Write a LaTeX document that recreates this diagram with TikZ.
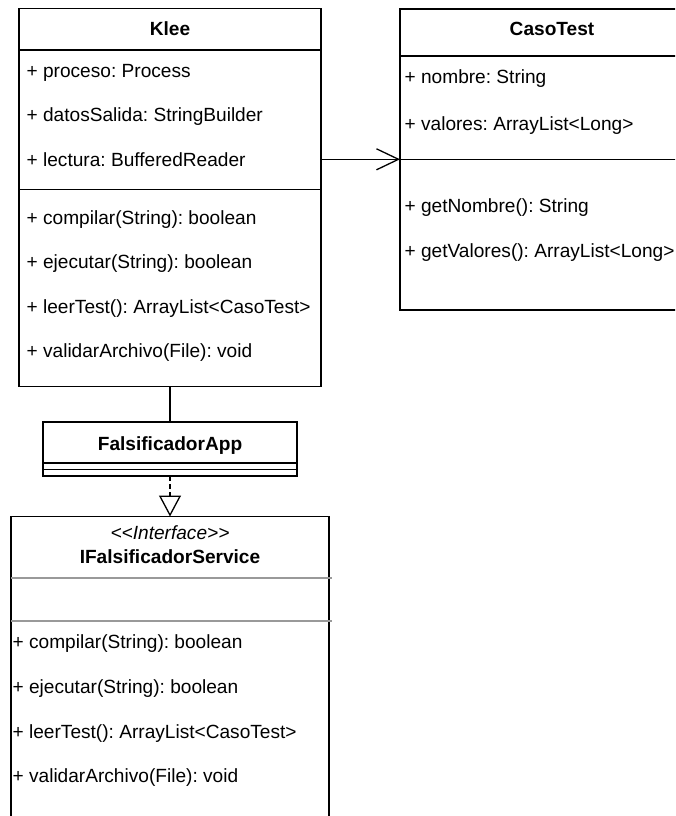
\documentclass[tikz,border=0pt]{standalone}
\usepackage{fontspec}
\setmainfont{Liberation Sans}
\usetikzlibrary{arrows.meta}
\frenchspacing

\begin{document}
\begin{tikzpicture}[x=1pt,y=-1pt,line width=1.3pt,
  classbox/.style={draw,rectangle,anchor=north west,inner sep=0pt,outer sep=0pt},
  member/.style={anchor=base west,inner sep=0pt,font=\fontsize{19.1}{22}\selectfont},
  title/.style={anchor=base,inner sep=0pt,font=\fontsize{19.1}{22}\selectfont\bfseries},
  stereo/.style={anchor=base,inner sep=0pt,font=\fontsize{19.1}{22}\selectfont\itshape},
  sepline/.style={draw=black!40,line width=1.3pt}]
\useasboundingbox (0,0) rectangle (675,816);
\clip (0,0) rectangle (675,816);

% Klee
\node[classbox,minimum width=302pt,minimum height=378pt] (klee) at (19,8.7) {};
\draw (19,50) -- (321,50);
\draw (19,189.5) -- (321,189.5);
\node[title] (kleeT) at (170,36) {Klee};
\node[member] (k1) at (26,77.5) {+ proceso: Process};
\node[member] (k2) at (26,121) {+ datosSalida: StringBuilder};
\node[member] (k3) at (26,166) {+ lectura: BufferedReader};
\node[member] (k4) at (26,224) {+ compilar(String): boolean};
\node[member] (k5) at (26,268.5) {+ ejecutar(String): boolean};
\node[member] (k6) at (26,313) {+ leerTest(): ArrayList<CasoTest>};
\node[member] (k7) at (26,357) {+ validarArchivo(File): void};

% CasoTest
\node[classbox,minimum width=320pt,minimum height=301pt] (caso) at (400,9) {};
\draw (400,56) -- (720,56);
\draw (400,159.3) -- (720,159.3);
\node[title] (casoT) at (552,36) {CasoTest};
\node[member] (c1) at (404,84) {+ nombre: String};
\node[member] (c2) at (404,130) {+ valores: ArrayList<Long>};
\node[member] (c3) at (404,212) {+ getNombre(): String};
\node[member] (c4) at (404,257) {+ getValores(): ArrayList<Long>};

% FalsificadorApp
\node[classbox,minimum width=254pt,minimum height=54pt] (app) at (43,422) {};
\draw (43,463) -- (297,463);
\draw (43,469.5) -- (297,469.5);
\node[title] (appT) at (170,450) {FalsificadorApp};

% IFalsificadorService
\node[classbox,minimum width=318pt,minimum height=320pt] (iface) at (11,516.5) {};
\draw[sepline] (11,578) -- (332,578);
\draw[sepline] (11,621) -- (332,621);
\node[stereo] (ifS) at (170,539) {<\kern0pt<Interface>\kern0pt>};
\node[title] (ifT) at (170,563) {IFalsificadorService};
\node[member] (i1) at (12,648) {+ compilar(String): boolean};
\node[member] (i2) at (12,693) {+ ejecutar(String): boolean};
\node[member] (i3) at (12,738) {+ leerTest(): ArrayList<CasoTest>};
\node[member] (i4) at (12,782) {+ validarArchivo(File): void};

% connectors
\coordinate (arrowY) at (0,159.3);
\draw[-{Straight Barb[length=22pt,width=21pt]}] (klee.east |- arrowY) -- (caso.west |- arrowY);
\draw (klee.south) -- (app.north);
\draw[dash pattern=on 5pt off 3pt,-{Triangle[open,length=21pt,width=22pt]}] (app.south) -- (iface.north);
\end{tikzpicture}
\end{document}
